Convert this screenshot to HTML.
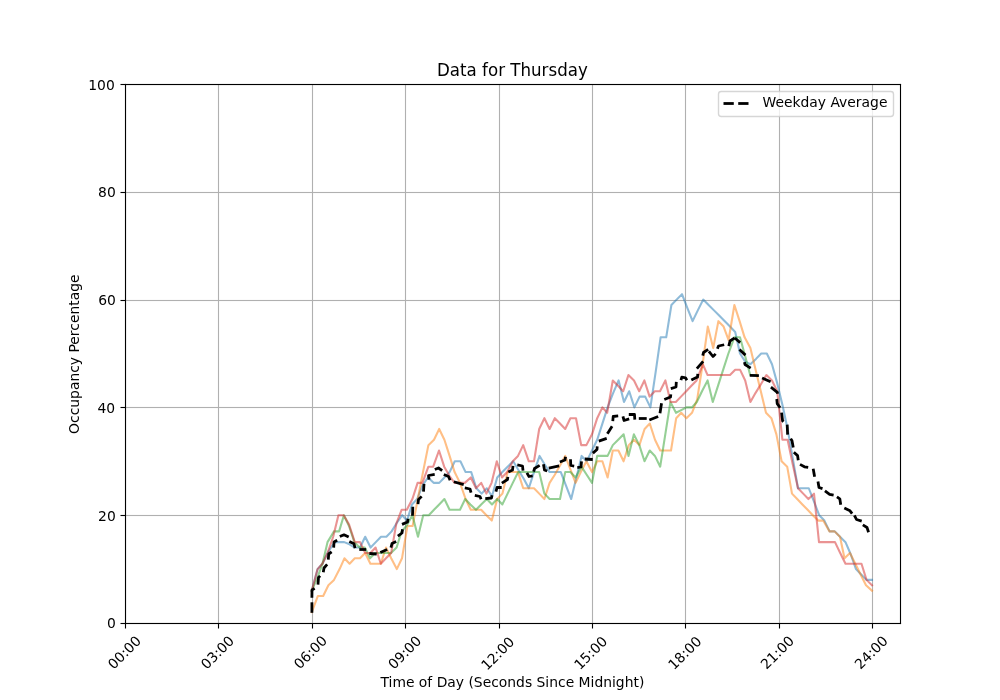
<!DOCTYPE html>
<html lang="en"><head><meta charset="utf-8"><title>Data for Thursday</title>
<style>html,body{margin:0;padding:0;background:#fff;}body{width:1000px;height:700px;overflow:hidden;}svg{display:block;}text{font-family:"DejaVu Sans","Liberation Sans",sans-serif;fill:#000;}</style></head><body>
<svg width="1000" height="700" viewBox="0 0 1000 700">
<rect x="0" y="0" width="1000" height="700" fill="#ffffff"/>
<defs><clipPath id="ax"><rect x="125" y="84" width="775" height="539"/></clipPath></defs>
<g fill="#b0b0b0" stroke="none">
<rect x="125.0000" y="84.0000" width="1.0556" height="539.0000"/>
<rect x="217.9444" y="84.0000" width="1.1111" height="539.0000"/>
<rect x="311.9444" y="84.0000" width="1.1111" height="539.0000"/>
<rect x="404.9444" y="84.0000" width="1.1111" height="539.0000"/>
<rect x="498.9444" y="84.0000" width="1.1111" height="539.0000"/>
<rect x="591.9444" y="84.0000" width="1.1111" height="539.0000"/>
<rect x="684.9444" y="84.0000" width="1.1111" height="539.0000"/>
<rect x="778.9444" y="84.0000" width="1.1111" height="539.0000"/>
<rect x="871.9444" y="84.0000" width="1.1111" height="539.0000"/>
<rect x="125.0000" y="622.9444" width="775.0000" height="0.0556"/>
<rect x="125.0000" y="514.9444" width="775.0000" height="1.1111"/>
<rect x="125.0000" y="406.9444" width="775.0000" height="1.1111"/>
<rect x="125.0000" y="299.9444" width="775.0000" height="1.1111"/>
<rect x="125.0000" y="191.9444" width="775.0000" height="1.1111"/>
<rect x="125.0000" y="84.0000" width="775.0000" height="1.0556"/>
</g>
<g fill="#000" stroke="none">
<rect x="124.9444" y="623.5000" width="1.1111" height="5.0000"/>
<rect x="217.9444" y="623.5000" width="1.1111" height="5.0000"/>
<rect x="311.9444" y="623.5000" width="1.1111" height="5.0000"/>
<rect x="404.9444" y="623.5000" width="1.1111" height="5.0000"/>
<rect x="498.9444" y="623.5000" width="1.1111" height="5.0000"/>
<rect x="591.9444" y="623.5000" width="1.1111" height="5.0000"/>
<rect x="684.9444" y="623.5000" width="1.1111" height="5.0000"/>
<rect x="778.9444" y="623.5000" width="1.1111" height="5.0000"/>
<rect x="871.9444" y="623.5000" width="1.1111" height="5.0000"/>
<rect x="120.5000" y="622.9444" width="5.0000" height="1.1111"/>
<rect x="120.5000" y="514.9444" width="5.0000" height="1.1111"/>
<rect x="120.5000" y="406.9444" width="5.0000" height="1.1111"/>
<rect x="120.5000" y="299.9444" width="5.0000" height="1.1111"/>
<rect x="120.5000" y="191.9444" width="5.0000" height="1.1111"/>
<rect x="120.5000" y="83.9444" width="5.0000" height="1.1111"/>
</g>
<g clip-path="url(#ax)" fill="none" stroke-width="2.083" stroke-linejoin="round" stroke-linecap="square" stroke-opacity="0.5">
<polyline stroke="#1f77b4" points="311.80,590.66 317.60,569.10 322.40,563.71 327.60,552.93 332.00,545.92 335.60,542.15 340.00,542.15 344.20,542.15 349.50,544.31 354.80,547.54 360.00,547.54 365.20,536.76 370.60,547.54 375.80,542.15 381.00,536.76 386.40,536.76 391.60,531.37 396.60,523.28 402.20,515.20 407.00,520.59 412.00,504.42 417.20,499.03 422.40,485.56 428.00,477.47 433.60,482.86 439.20,482.86 444.40,477.47 449.60,472.08 454.80,461.30 460.40,461.30 465.60,472.08 471.20,472.08 476.40,488.25 481.60,493.64 486.80,488.25 492.00,496.34 497.20,477.47 502.40,472.08 507.60,466.69 513.20,461.30 518.40,469.92 523.60,478.55 528.80,488.25 534.00,472.08 539.60,455.91 544.40,464.00 549.60,472.08 555.20,472.08 560.80,472.08 566.00,485.56 571.20,499.03 576.40,477.47 581.60,455.91 586.80,461.30 592.00,450.52 597.20,439.74 602.40,423.57 607.60,407.40 612.80,393.93 618.60,380.45 624.00,402.01 629.20,391.23 634.40,407.40 639.60,396.62 645.20,396.62 650.40,407.40 655.60,372.37 660.60,337.33 666.20,337.33 671.40,304.99 676.60,299.60 682.00,294.21 687.20,307.69 692.60,321.16 697.80,310.38 703.20,299.60 708.60,304.99 714.00,310.38 719.40,315.77 724.80,321.16 730.00,326.55 735.20,331.94 740.00,353.50 745.20,361.58 750.40,364.28 756.00,358.89 761.20,353.50 766.80,353.50 772.00,364.28 777.20,383.14 782.40,404.70 787.60,428.96 792.80,458.61 798.00,488.25 803.40,488.25 808.80,488.25 814.00,501.73 819.20,515.20 824.40,520.59 829.60,531.37 834.80,531.37 840.00,536.76 845.50,542.15 850.60,554.01 856.00,569.10 861.20,574.49 866.50,579.88 872.00,579.88"/>
<polyline stroke="#ff7f0e" points="311.80,612.22 317.80,596.05 323.20,596.05 328.40,585.27 334.00,579.88 339.60,569.10 344.40,558.32 349.60,563.71 354.80,558.32 360.00,558.32 365.20,552.93 370.40,563.71 375.60,563.71 380.80,563.71 386.00,547.54 391.20,558.32 396.80,569.10 402.00,558.32 407.40,525.98 412.60,525.98 417.80,499.03 423.00,472.08 428.40,445.13 434.00,439.74 439.20,428.96 444.40,439.74 449.60,455.91 454.60,472.08 460.00,482.86 465.60,499.03 470.80,509.81 476.00,509.81 481.20,509.81 486.40,515.20 491.80,520.59 497.20,499.03 502.40,493.64 507.60,472.08 512.80,472.08 518.00,472.08 523.20,488.25 528.40,488.25 534.00,488.25 539.20,493.64 544.40,499.03 549.60,482.86 554.80,474.77 560.00,465.61 565.20,455.91 570.40,469.38 575.60,482.86 580.80,472.08 586.40,461.30 592.00,472.08 597.20,461.30 602.40,461.30 607.60,477.47 612.80,450.52 618.40,450.52 623.60,461.30 628.80,445.13 634.00,439.74 639.40,445.13 644.60,428.96 649.80,423.57 655.00,439.74 660.20,450.52 665.80,450.52 671.00,450.52 676.20,418.18 681.20,412.79 686.40,418.18 692.00,412.79 697.20,399.31 702.60,364.28 707.80,326.55 713.20,348.11 718.40,321.16 723.60,326.55 728.60,340.02 734.40,304.99 739.60,321.16 744.60,337.33 750.40,348.11 755.60,369.67 760.80,391.23 766.00,412.79 771.40,418.18 776.40,434.35 781.60,461.30 787.20,466.69 792.00,493.64 797.20,499.03 802.40,504.42 807.60,509.81 812.80,515.20 818.20,520.59 823.20,520.59 829.50,531.37 834.50,531.37 840.00,536.76 844.50,558.32 850.00,552.93 855.30,563.71 860.60,574.49 866.00,585.27 872.00,590.66"/>
<polyline stroke="#2ca02c" points="311.80,590.66 317.60,577.18 322.50,563.71 327.50,542.15 334.00,531.37 339.10,531.37 343.90,515.20 349.00,525.98 354.40,542.15 359.60,547.54 364.80,547.54 370.00,558.32 375.20,552.93 380.40,552.93 385.60,552.93 391.00,552.93 396.60,547.54 401.60,531.37 406.40,525.98 412.40,515.20 418.00,536.76 423.20,515.20 428.80,515.20 434.00,509.81 439.20,504.42 444.40,499.03 449.60,509.81 454.80,509.81 460.00,509.81 465.20,499.03 470.40,504.42 476.00,509.81 481.20,504.42 486.80,499.03 492.00,504.42 497.20,499.03 502.40,504.42 507.60,493.64 512.80,482.86 518.20,472.08 523.40,472.08 528.60,472.08 533.80,472.08 539.20,472.08 544.40,493.64 549.60,499.03 554.80,499.03 560.00,499.03 565.20,472.08 570.40,472.08 575.60,477.47 581.40,466.69 586.70,474.77 592.00,482.86 597.20,455.91 602.40,455.91 607.60,455.91 612.80,445.13 618.20,439.74 623.60,434.35 628.50,455.91 633.90,434.35 639.30,445.13 644.50,461.30 649.70,450.52 654.90,455.91 660.20,466.69 665.30,434.35 670.40,402.01 676.00,412.79 681.20,410.10 686.40,407.40 692.00,407.40 696.80,402.01 702.00,391.23 707.60,380.45 712.80,402.01 718.00,385.84 723.20,369.67 728.40,353.50 734.40,337.33 740.00,337.33 745.20,356.19 750.20,375.06 755.60,375.06"/>
<polyline stroke="#d62728" points="311.80,590.66 317.60,569.10 322.40,563.71 327.60,552.93 333.20,536.76 338.40,515.20 343.70,515.20 349.00,524.36 354.80,542.15 360.00,542.15 365.20,552.93 370.40,552.93 375.60,547.54 380.80,563.71 386.00,558.32 391.20,552.93 396.40,523.28 401.60,509.81 406.80,509.81 412.40,499.03 417.60,482.86 422.40,482.86 428.40,466.69 433.20,466.69 439.00,450.52 444.20,466.69 449.40,475.85 454.60,482.86 459.60,482.86 464.80,482.86 470.80,477.47 476.00,488.25 481.20,482.86 486.40,493.64 491.60,482.86 496.80,461.30 502.00,477.47 507.20,472.08 512.80,461.30 518.00,455.91 523.20,445.13 528.80,461.30 534.00,461.30 539.20,428.96 544.40,418.18 549.60,428.96 554.80,418.18 560.00,423.57 565.20,428.96 570.40,418.18 576.00,418.18 581.20,445.13 586.40,445.13 592.00,434.35 597.20,418.18 602.40,407.40 607.20,412.79 612.80,380.45 618.00,385.84 623.20,391.23 628.40,375.06 634.00,380.45 639.20,391.23 644.40,380.45 649.60,396.62 654.80,391.23 660.00,391.23 665.40,380.45 670.60,402.01 675.80,402.01 681.00,396.62 686.20,391.23 691.40,385.84 696.60,380.45 702.80,364.28 707.60,375.06 712.80,375.06 718.40,375.06 724.00,375.06 730.00,375.06 735.20,369.67 740.00,369.67 745.20,380.45 750.40,402.01 755.60,392.85 761.20,383.68 766.40,375.06 772.00,380.45 777.20,391.23 782.40,439.74 787.60,439.74 792.80,464.53 798.00,488.25 803.20,493.64 808.40,499.03 814.00,493.64 819.00,542.15 824.30,542.15 829.70,542.15 835.00,542.15 840.20,552.93 845.50,563.71 850.80,563.71 856.20,563.71 861.50,563.71 866.50,579.88 872.00,585.27"/>
</g>
<g clip-path="url(#ax)" fill="none" stroke="#000" stroke-width="2.778" stroke-linejoin="round" stroke-linecap="butt">
<polyline points="311.90,612.80 311.90,602.30"/>
<polyline points="311.90,597.70 312.00,590.00 314.67,588.40"/>
<polyline points="317.99,584.70 318.50,577.50 320.14,575.86"/>
<polyline points="323.27,572.20 324.00,568.00 327.13,564.35"/>
<polyline points="328.29,559.70 328.70,554.00 331.66,551.88"/>
<polyline points="333.69,547.70 334.00,542.00 337.17,540.20"/>
<polyline points="339.82,536.58 344.00,534.80 348.68,537.09"/>
<polyline points="349.32,541.41 354.00,543.70 355.05,548.19"/>
<polyline points="359.30,549.50 366.20,549.50"/>
<polyline points="369.30,553.49 376.70,554.01"/>
<polyline points="380.32,552.58 387.18,549.42"/>
<polyline points="390.95,547.69 392.00,543.50 396.18,541.41"/>
<polyline points="397.84,536.12 402.00,533.00 402.53,529.30"/>
<polyline points="402.02,524.38 407.50,522.00 408.03,518.80"/>
<polyline points="412.49,515.70 412.81,506.80"/>
<polyline points="417.98,504.20 418.50,499.50 421.64,496.36"/>
<polyline points="423.49,491.70 424.01,483.80"/>
<polyline points="429.02,479.70 428.50,475.50 434.70,474.47"/>
<polyline points="434.82,469.58 438.50,468.00 442.16,470.62"/>
<polyline points="443.82,474.42 448.50,476.50 450.08,480.18"/>
<polyline points="453.81,481.75 463.69,484.55"/>
<polyline points="464.80,487.96 470.00,489.00 471.05,492.69"/>
<polyline points="474.80,495.46 480.00,496.50 481.07,499.19"/>
<polyline points="485.30,498.72 491.50,498.00 492.04,495.30"/>
<polyline points="495.95,491.69 497.00,487.50 501.70,487.50"/>
<polyline points="501.83,483.11 507.50,479.50 507.82,476.80"/>
<polyline points="508.32,472.09 512.50,470.00 513.02,465.80"/>
<polyline points="517.30,464.96 522.50,466.00 523.02,470.70"/>
<polyline points="526.90,472.83 529.00,476.50 532.70,475.97"/>
<polyline points="533.65,471.69 534.50,468.50 539.67,465.40"/>
<polyline points="543.46,464.30 544.50,470.00 547.19,471.07"/>
<polyline points="548.80,468.04 559.20,465.96"/>
<polyline points="559.81,462.07 565.00,460.00 565.53,456.80"/>
<polyline points="570.49,459.30 570.80,465.50 574.20,466.03"/>
<polyline points="577.30,467.53 581.00,467.00 581.52,461.30"/>
<polyline points="584.80,458.99 592.70,459.51"/>
<polyline points="592.85,453.13 597.00,449.50 597.21,446.30"/>
<polyline points="598.81,441.06 606.69,438.44"/>
<polyline points="607.39,433.67 612.11,426.33"/>
<polyline points="612.78,421.20 613.20,416.50 618.20,415.98"/>
<polyline points="622.95,416.31 624.00,420.50 629.19,418.94"/>
<polyline points="628.80,414.50 634.50,414.50 634.81,419.70"/>
<polyline points="638.80,418.50 646.70,418.50"/>
<polyline points="649.32,420.08 658.18,416.42"/>
<polyline points="659.97,413.20 661.53,403.30"/>
<polyline points="664.32,399.58 670.50,397.00 670.82,394.30"/>
<polyline points="670.81,388.56 676.00,387.00 676.31,381.80"/>
<polyline points="680.95,380.19 681.80,377.20 685.50,377.80 686.90,380.17"/>
<polyline points="691.32,380.09 697.50,377.00 697.82,373.80"/>
<polyline points="696.87,368.65 703.13,361.35"/>
<polyline points="702.75,355.69 703.50,352.50 708.17,349.39"/>
<polyline points="708.88,351.34 713.00,356.50 715.64,353.86"/>
<polyline points="717.43,348.69 718.50,346.00 724.20,344.76"/>
<polyline points="728.75,346.19 730.00,341.00 734.67,337.89"/>
<polyline points="734.85,338.07 740.15,342.63"/>
<polyline points="739.45,349.56 745.45,355.14"/>
<polyline points="744.46,362.10 745.00,364.50 750.67,368.11"/>
<polyline points="749.80,375.29 758.90,375.71"/>
<polyline points="762.12,377.92 770.58,381.78"/>
<polyline points="770.94,387.17 777.30,392.30 777.64,393.79"/>
<polyline points="776.78,399.00 777.20,403.60 780.11,407.76"/>
<polyline points="781.58,412.60 782.60,420.80 783.43,421.75"/>
<polyline points="787.19,424.60 787.61,434.60"/>
<polyline points="790.70,438.63 792.00,440.80 793.24,447.40"/>
<polyline points="793.85,452.27 797.60,455.60 798.23,460.20"/>
<polyline points="800.02,464.40 804.40,466.80 808.20,467.33"/>
<polyline points="813.16,468.70 814.64,476.70"/>
<polyline points="817.97,481.60 819.00,487.50 822.49,488.66"/>
<polyline points="824.94,490.88 829.60,494.30 833.60,495.04"/>
<polyline points="836.93,496.89 839.80,498.80 840.73,504.80"/>
<polyline points="844.32,508.01 850.00,510.80 852.12,513.66"/>
<polyline points="854.41,515.32 856.50,519.50 861.69,521.06"/>
<polyline points="862.83,524.89 867.00,527.50 868.56,532.19"/>
</g>
<g fill="#000" stroke="none">
<rect x="124.9444" y="83.9444" width="1.1111" height="540.1111"/>
<rect x="899.9444" y="83.9444" width="1.1111" height="540.1111"/>
<rect x="124.9444" y="622.9444" width="776.1111" height="1.1111"/>
<rect x="124.9444" y="83.9444" width="776.1111" height="1.1111"/>
</g>
<g font-size="13.889px">
<text transform="translate(113.68 669.98) rotate(-45)">00:00</text>
<text transform="translate(206.72 669.92) rotate(-45)">03:00</text>
<text transform="translate(299.78 669.81) rotate(-45)">06:00</text>
<text transform="translate(393.93 669.92) rotate(-45)">09:00</text>
<text transform="translate(487.07 671.12) rotate(-45)">12:00</text>
<text transform="translate(579.88 670.59) rotate(-45)">15:00</text>
<text transform="translate(674.12 670.52) rotate(-45)">18:00</text>
<text transform="translate(766.60 670.12) rotate(-45)">21:00</text>
<text transform="translate(860.57 670.10) rotate(-45)">24:00</text>
<text x="115.76" y="628.00" text-anchor="end">0</text>
<text x="115.75" y="521.00" text-anchor="end">20</text>
<text x="115.14" y="413.00" text-anchor="end">40</text>
<text x="115.82" y="305.00" text-anchor="end">60</text>
<text x="115.78" y="197.00" text-anchor="end">80</text>
<text x="114.77" y="90.00" text-anchor="end">100</text>
<text x="512.42" y="686.88" text-anchor="middle">Time of Day (Seconds Since Midnight)</text>
<text transform="translate(79.34 354.20) rotate(-90)" text-anchor="middle">Occupancy Percentage</text>
</g>
<text transform="translate(512.40 75.97) scale(1 1.075)" text-anchor="middle" font-size="16.667px">Data for Thursday</text>
<rect x="718.50" y="91.50" width="175.00" height="25.00" rx="2.78" ry="2.78" fill="#ffffff" fill-opacity="0.8" stroke="#cccccc" stroke-opacity="0.8" stroke-width="1.389"/>
<g fill="#000"><rect x="723.5" y="102.111" width="10.278" height="2.778"/><rect x="738.222" y="102.111" width="10.278" height="2.778"/></g>
<text x="762.50" y="107.14" font-size="13.889px">Weekday Average</text>
</svg></body></html>
